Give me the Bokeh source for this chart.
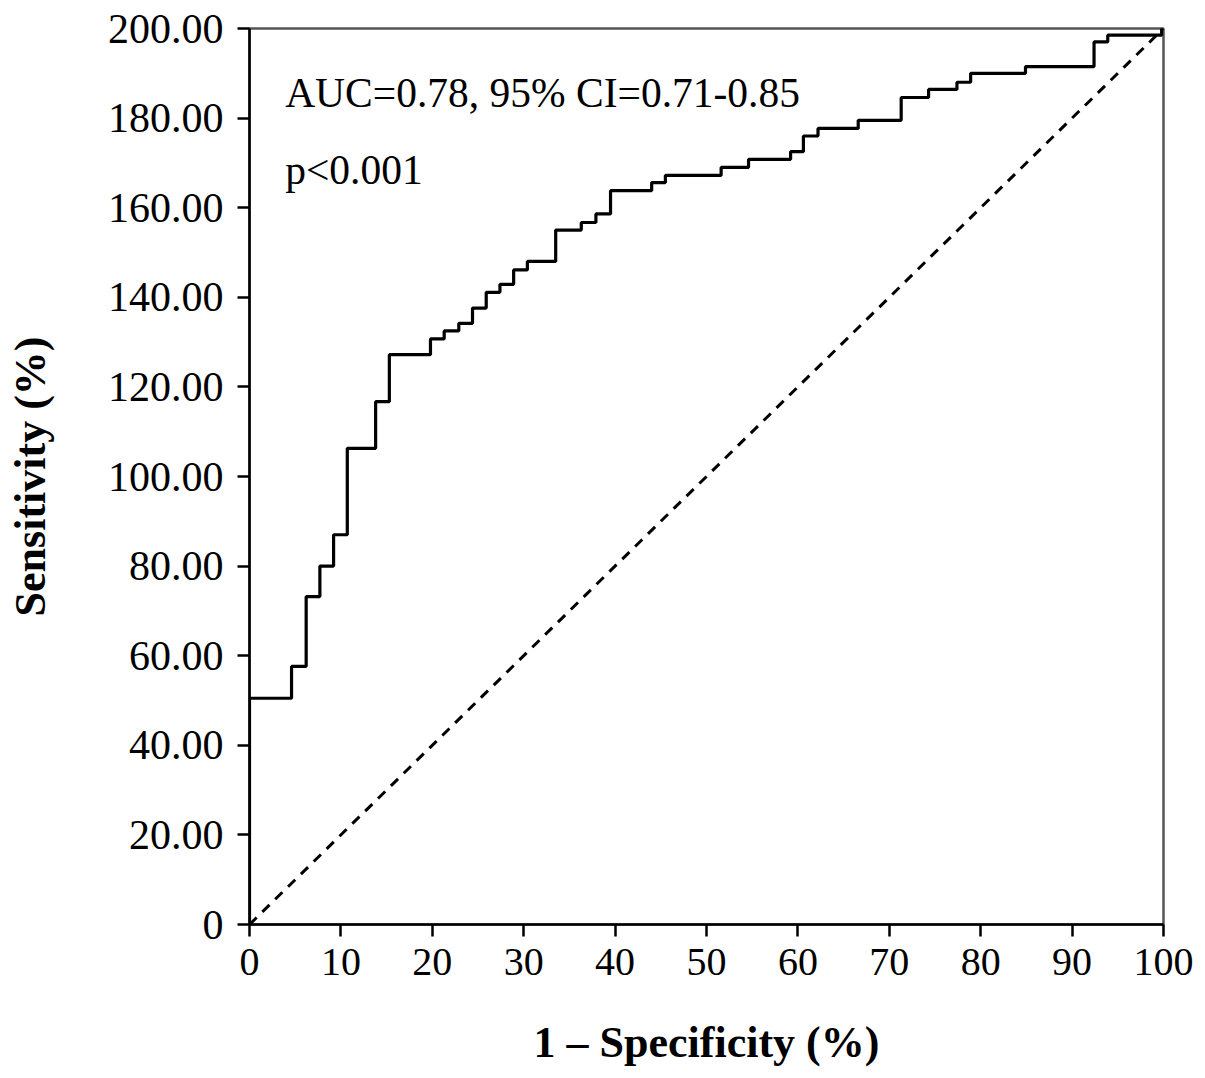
import numpy as np
from bokeh.plotting import figure
from bokeh.models import FixedTicker, Label
from bokeh.embed import file_html
from bokeh.resources import INLINE

# ROC vertices (1 - specificity %, sensitivity scale as printed)
fpr = [0, 0, 4.6, 6.2, 7.7, 9.2, 10.7, 13.8, 15.3, 19.8, 21.3, 22.9, 24.4, 25.9,
       27.4, 28.9, 30.4, 33.5, 36.3, 37.9, 39.5, 44.0, 45.5, 51.6, 54.6, 59.2,
       60.6, 62.2, 66.6, 71.3, 74.3, 77.4, 78.9, 84.9, 92.4, 93.9, 99.8]
tpr = [0, 50.5, 57.6, 73.2, 80.0, 87.0, 106.3, 116.7, 127.2, 130.7, 132.5, 134.2,
       137.6, 141.1, 142.9, 146.1, 148.0, 155.0, 156.7, 158.6, 163.8, 165.6, 167.2,
       169.0, 170.8, 172.5, 176.0, 177.7, 179.5, 184.6, 186.4, 188.0, 190.0, 191.5,
       197.0, 198.5, 200.0]
ref_x = [0, 100]
ref_y = [0, 200]
x_ticks = [0, 10, 20, 30, 40, 50, 60, 70, 80, 90, 100]
y_ticks = [0, 20, 40, 60, 80, 100, 120, 140, 160, 180, 200]
y_tick_labels = ["0", "20.00", "40.00", "60.00", "80.00", "100.00", "120.00",
                 "140.00", "160.00", "180.00", "200.00"]
annot_auc = "AUC=0.78, 95% CI=0.71-0.85"
annot_p = "p<0.001"

# build staircase path from the vertices
fx = np.array(fpr, dtype=float)
fy = np.array(tpr, dtype=float)
path_x = [fx[0]]
path_y = [fy[0]]
for i in range(1, len(fx)):
    path_x += [fx[i], fx[i]]
    path_y += [path_y[-1], fy[i]]
path_x.append(100.0)
path_y.append(path_y[-1])

FONT = "Liberation Serif"

p = figure(width=1197, height=1070, output_backend="svg", toolbar_location=None,
           x_range=(0, 100), y_range=(0, 200),
           min_border_left=249, min_border_right=34, min_border_top=28,
           min_border_bottom=146)
p.grid.visible = False
p.outline_line_color = "#555555"
p.outline_line_width = 2.5
p.background_fill_color = "white"
p.border_fill_color = "white"

p.line(ref_x, ref_y, line_color="black", line_width=3, line_dash="10 8")
p.line(path_x, path_y, line_color="black", line_width=3.2)

for ax in (p.xaxis[0], p.yaxis[0]):
    ax.axis_line_width = 2.5
    ax.axis_line_color = "black"
    ax.major_tick_line_width = 2.5
    ax.major_tick_line_color = "black"
    ax.major_tick_out = 12
    ax.major_tick_in = 0
    ax.minor_tick_out = 0
    ax.minor_tick_in = 0
    ax.major_label_text_font = FONT
    ax.major_label_text_color = "black"
    ax.axis_label_text_font = FONT
    ax.axis_label_text_font_style = "bold"
    ax.axis_label_text_font_size = "44px"
    ax.axis_label_text_color = "black"

p.xaxis.major_label_text_font_size = "40px"
p.yaxis.major_label_text_font_size = "42px"
p.xaxis.ticker = FixedTicker(ticks=x_ticks)
p.yaxis.ticker = FixedTicker(ticks=y_ticks)
p.yaxis.major_label_overrides = {t: l for t, l in zip(y_ticks, y_tick_labels)}
p.xaxis.major_label_standoff = 12
p.yaxis.major_label_standoff = 14
p.xaxis.axis_label = "1 \u2013 Specificity (%)"
p.yaxis.axis_label = "Sensitivity (%)"
p.xaxis.axis_label_standoff = 40
p.yaxis.axis_label_standoff = 50

p.add_layout(Label(x=3.9, y=185.5, text=annot_auc, text_font=FONT,
                   text_font_size="41.5px", text_color="black",
                   text_baseline="alphabetic"))
p.add_layout(Label(x=3.9, y=168.5, text=annot_p, text_font=FONT,
                   text_font_size="41.5px", text_color="black",
                   text_baseline="alphabetic"))

open("out.html", "w").write(file_html(p, INLINE))
